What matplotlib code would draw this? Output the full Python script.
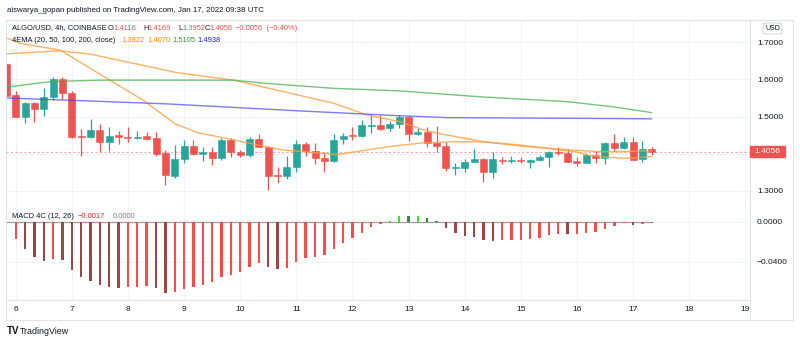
import matplotlib
matplotlib.use("Agg")
import matplotlib.pyplot as plt
from matplotlib.patches import Rectangle, FancyBboxPatch
from matplotlib.lines import Line2D
import numpy as np

plt.rcParams['font.family'] = ['Liberation Sans', 'DejaVu Sans']

# ALGO/USD 4h candles, first bar Jan 5 20:00 UTC
opens = [1.641, 1.557, 1.500, 1.536, 1.521, 1.553, 1.600, 1.563, 1.446, 1.445,
         1.464, 1.432, 1.450, 1.4455, 1.443, 1.447, 1.441, 1.401, 1.341, 1.386,
         1.421, 1.398, 1.405, 1.387, 1.437, 1.403, 1.395, 1.439, 1.417, 1.340,
         1.339, 1.365, 1.426, 1.407, 1.387, 1.380, 1.439, 1.448, 1.448, 1.475,
         1.477, 1.470, 1.480, 1.500, 1.452, 1.459, 1.429, 1.421, 1.361, 1.362,
         1.378, 1.386, 1.350, 1.383, 1.381, 1.384, 1.378, 1.383, 1.390, 1.405,
         1.402, 1.381, 1.376, 1.396, 1.387, 1.429, 1.414, 1.431, 1.385, 1.4116]
highs = [1.645, 1.569, 1.540, 1.540, 1.576, 1.607, 1.607, 1.569, 1.466, 1.493,
         1.480, 1.471, 1.461, 1.471, 1.462, 1.459, 1.458, 1.410, 1.422, 1.437,
         1.437, 1.419, 1.419, 1.441, 1.443, 1.410, 1.444, 1.452, 1.421, 1.365,
         1.394, 1.437, 1.432, 1.429, 1.405, 1.452, 1.456, 1.473, 1.491, 1.504,
         1.504, 1.488, 1.504, 1.501, 1.468, 1.471, 1.474, 1.431, 1.374, 1.386,
         1.412, 1.389, 1.405, 1.392, 1.394, 1.392, 1.385, 1.396, 1.408, 1.419,
         1.412, 1.392, 1.401, 1.407, 1.431, 1.452, 1.446, 1.446, 1.434, 1.4169]
lows = [1.552, 1.498, 1.483, 1.486, 1.501, 1.544, 1.548, 1.441, 1.394, 1.441,
        1.404, 1.407, 1.425, 1.430, 1.439, 1.437, 1.394, 1.315, 1.333, 1.374,
        1.397, 1.380, 1.369, 1.383, 1.392, 1.392, 1.392, 1.417, 1.302, 1.320,
        1.331, 1.351, 1.394, 1.372, 1.351, 1.378, 1.425, 1.437, 1.446, 1.455,
        1.464, 1.462, 1.468, 1.435, 1.451, 1.419, 1.403, 1.354, 1.342, 1.351,
        1.377, 1.324, 1.335, 1.371, 1.374, 1.376, 1.360, 1.381, 1.365, 1.396,
        1.377, 1.367, 1.374, 1.376, 1.371, 1.407, 1.413, 1.382, 1.378, 1.3952]
closes = [1.555, 1.500, 1.536, 1.521, 1.553, 1.600, 1.564, 1.446, 1.445, 1.464,
          1.432, 1.448, 1.444, 1.443, 1.446, 1.440, 1.399, 1.342, 1.386, 1.421,
          1.398, 1.405, 1.389, 1.437, 1.403, 1.396, 1.439, 1.419, 1.340, 1.339,
          1.363, 1.425, 1.407, 1.387, 1.380, 1.437, 1.448, 1.447, 1.476, 1.477,
          1.466, 1.480, 1.500, 1.452, 1.459, 1.429, 1.421, 1.360, 1.363, 1.378,
          1.385, 1.350, 1.385, 1.381, 1.383, 1.380, 1.383, 1.390, 1.405, 1.401,
          1.378, 1.376, 1.396, 1.387, 1.429, 1.414, 1.431, 1.383, 1.4112, 1.4056]

# MACD 4C histogram, from the second bar onward
macd = [-0.0176, -0.0270, -0.0350, -0.0390, -0.0370, -0.0383, -0.0483, -0.0556,
        -0.0590, -0.0636, -0.0650, -0.0660, -0.0655, -0.0650, -0.0643, -0.0666,
        -0.0710, -0.0700, -0.0673, -0.0650, -0.0633, -0.0606, -0.0550, -0.0533,
        -0.0503, -0.0450, -0.0416, -0.0450, -0.0473, -0.0466, -0.0400, -0.0366,
        -0.0350, -0.0333, -0.0270, -0.0216, -0.0166, -0.0110, -0.0050, -0.0020,
        0.0007, 0.0057, 0.0055, 0.0060, 0.0034, 0.0003, -0.0066, -0.0116,
        -0.0140, -0.0150, -0.0186, -0.0188, -0.0186, -0.0180, -0.0178, -0.0170,
        -0.0166, -0.0137, -0.0120, -0.0127, -0.0126, -0.0110, -0.0103, -0.0070,
        -0.0043, -0.0015, -0.0033, -0.0020, -0.0017]

# 4EMA lines (day of January, value)
ema20_t = [5.83, 6.08, 6.79, 8.27, 8.84, 9.23, 9.82, 10.44, 10.76, 11.42, 11.75,
           12.26, 12.76, 13.26, 13.86, 14.33, 14.99, 15.98, 16.18, 16.54, 16.95, 17.33]
ema20_v = [1.712, 1.697, 1.679, 1.544, 1.480, 1.457, 1.439, 1.419, 1.410, 1.401, 1.398,
           1.410, 1.421, 1.429, 1.432, 1.432, 1.423, 1.405, 1.396, 1.390, 1.387, 1.3922]
ema50_t = [5.83, 6.79, 7.33, 8.88, 9.88, 11.66, 12.26, 12.85, 13.26, 13.51, 14.33,
           15.08, 15.88, 16.42, 17.33]
ema50_v = [1.669, 1.677, 1.668, 1.618, 1.598, 1.536, 1.504, 1.486, 1.464, 1.455, 1.432,
           1.419, 1.410, 1.405, 1.4070]
ema100_t = [5.83, 6.61, 7.50, 9.88, 10.48, 11.66, 12.85, 14.28, 15.83, 16.65, 17.33]
ema100_v = [1.579, 1.594, 1.598, 1.598, 1.589, 1.576, 1.569, 1.553, 1.540, 1.526, 1.5105]
ema200_t = [5.83, 6.92, 8.70, 11.07, 12.85, 13.69, 16.06, 17.33]
ema200_v = [1.550, 1.544, 1.534, 1.515, 1.502, 1.497, 1.495, 1.4938]

days = list(range(6, 20))
price_ticks = [1.3, 1.4, 1.5, 1.6, 1.7]
last_price = 1.4056

UP, DOWN = '#26a69a', '#ef5350'
GRID = '#f0f3fa'
BORDER = '#e0e3eb'
TEXT = '#131722'

W, H = 800, 343
fig = plt.figure(figsize=(W / 100, H / 100), dpi=100)
fig.patch.set_facecolor('white')


def box(x0, y0, x1, y1):
    return [x0 / W, 1 - y1 / H, (x1 - x0) / W, (y1 - y0) / H]


def fp(x, y):
    return x / W, 1 - y / H


ax = fig.add_axes(box(6, 20, 750, 206))
axm = fig.add_axes(box(6, 206, 750, 300), sharex=ax)

t = 5 + 20 / 24 + np.arange(len(opens)) / 6
o, h, l, c = map(np.array, (opens, highs, lows, closes))
col = np.where(c >= o, UP, DOWN)

ax.vlines(t, l, h, colors=col, lw=0.9, zorder=3)
body = np.maximum(np.abs(c - o), 0.0025)
ax.bar(t, body, bottom=np.minimum(o, c), width=0.125, color=col,
       edgecolor=col, linewidth=0.4, zorder=4)

ax.plot(ema20_t, ema20_v, color='#ff9f40', lw=1.0, alpha=0.8, zorder=5)
ax.plot(ema50_t, ema50_v, color='#ff9f40', lw=1.0, alpha=0.8, zorder=5)
ax.plot(ema100_t, ema100_v, color='#4caf50', lw=1.0, alpha=0.75, zorder=5)
ax.plot(ema200_t, ema200_v, color='#4545ff', lw=1.0, alpha=0.7, zorder=5)

ax.axhline(last_price, color=DOWN, lw=0.8, alpha=0.5, ls=(0, (2, 2)), zorder=2)

ax.set_xlim(5.827, 19.084)
ax.set_ylim(1.2588, 1.7601)
ax.set_xticks(days)
ax.set_yticks(price_ticks)
ax.set_yticklabels(['1.3000', '', '1.5000', '1.6000', '1.7000'])
ax.yaxis.tick_right()
ax.tick_params(axis='y', length=0, pad=5, labelsize=6.0, labelcolor=TEXT)
ax.tick_params(axis='x', length=0, labelbottom=False)
ax.grid(color=GRID, lw=0.8, zorder=0)
ax.set_axisbelow(True)
for s in ('top', 'left'):
    ax.spines[s].set_visible(False)
for s in ('right', 'bottom'):
    ax.spines[s].set_color(BORDER)
    ax.spines[s].set_linewidth(0.8)

# MACD 4C histogram
mt = t[1:]
mv = np.array(macd)
prev = np.concatenate([[mv[0]], mv[:-1]])
rising = mv >= prev
mcol = np.where(mv >= 0, np.where(rising, '#30e830', '#2e8b2e'),
                np.where(rising, '#ff4a4a', '#9c4646'))
axm.bar(mt, mv, width=0.042, color=mcol, zorder=3)
axm.plot([t[0], t[-1]], [0, 0], color='#9e9e9e', lw=0.9, zorder=2)
axm.set_ylim(-0.0783, 0.0157)
axm.set_yticks([0, -0.04])
axm.set_yticklabels(['0.0000', '\u22120.0400'])
axm.yaxis.tick_right()
axm.tick_params(axis='y', length=0, pad=5, labelsize=6.0, labelcolor=TEXT)
axm.set_xticks(days)
axm.set_xticklabels([str(d) for d in days])
axm.tick_params(axis='x', length=0, pad=4, labelsize=6.0, labelcolor=TEXT)
axm.grid(color=GRID, lw=0.8, zorder=0)
axm.set_axisbelow(True)
for s in ('top', 'left'):
    axm.spines[s].set_visible(False)
for s in ('right', 'bottom'):
    axm.spines[s].set_color(BORDER)
    axm.spines[s].set_linewidth(0.8)

# outer frame
for (x0, y0, x1, y1) in [(6, 20, 793, 20), (6, 20, 6, 320), (793, 20, 793, 320),
                         (6, 320, 793, 320), (750, 300, 750, 320)]:
    a, b = fp(x0, y0)
    cc, d = fp(x1, y1)
    fig.add_artist(Line2D([a, cc], [b, d], color=BORDER, lw=0.8))

# last price tag
fig.add_artist(Rectangle(fp(750, 157.5), 35 / W, 11.5 / H, color=DOWN,
                         transform=fig.transFigure, zorder=10))
fig.text(*fp(767.5, 151.7), '1.4056', color='white', fontsize=6.0,
         ha='center', va='center', zorder=11)

# currency tag
fig.add_artist(FancyBboxPatch(fp(763, 34), 19 / W, 11 / H,
                              boxstyle='round,pad=0,rounding_size=0.004',
                              fc='white', ec='#d1d4dc', lw=0.7,
                              transform=fig.transFigure, zorder=10))
fig.text(*fp(772.5, 28.5), 'USD', color=TEXT, fontsize=5.0,
         ha='center', va='center', zorder=11)

fig.text(*fp(7, 10), 'aiswarya_gopan published on TradingView.com, Jan 17, 2022 09:38 UTC',
         color=TEXT, fontsize=5.7, va='center')


def segs(y, parts, size=5.4):
    for x, s, cl in parts:
        fig.text(*fp(x, y), s, color=cl, fontsize=size, va='center')


segs(28, [(12, 'ALGO/USD, 4h, COINBASE', TEXT), (108, 'O', TEXT), (113, '1.4116', DOWN),
          (143, 'H', TEXT), (147.5, '1.4169', DOWN), (178, 'L', TEXT), (182, '1.3952', DOWN),
          (204.5, 'C', TEXT), (209, '1.4056', DOWN),
          (235, '\u22120.0056  (\u22120.40%)', DOWN)])
segs(41, [(12, '4EMA (20, 50, 100, 200, close)', TEXT), (121, '1.3922', '#ff8c00'),
          (147, '1.4070', '#ff8c00'), (172, '1.5105', '#2e9b2e'), (197, '1.4938', '#1c1cff')])
segs(216, [(12, 'MACD 4C (12, 26)', TEXT), (78, '\u22120.0017', '#ff2020'),
           (113, '0.0000', '#787b86')])

fig.text(*fp(7, 331), 'TV', color=TEXT, fontsize=7, fontweight='bold', va='center')
fig.text(*fp(20, 331), 'TradingView', color=TEXT, fontsize=6.4, va='center')

fig.savefig('out.png', dpi=100)
